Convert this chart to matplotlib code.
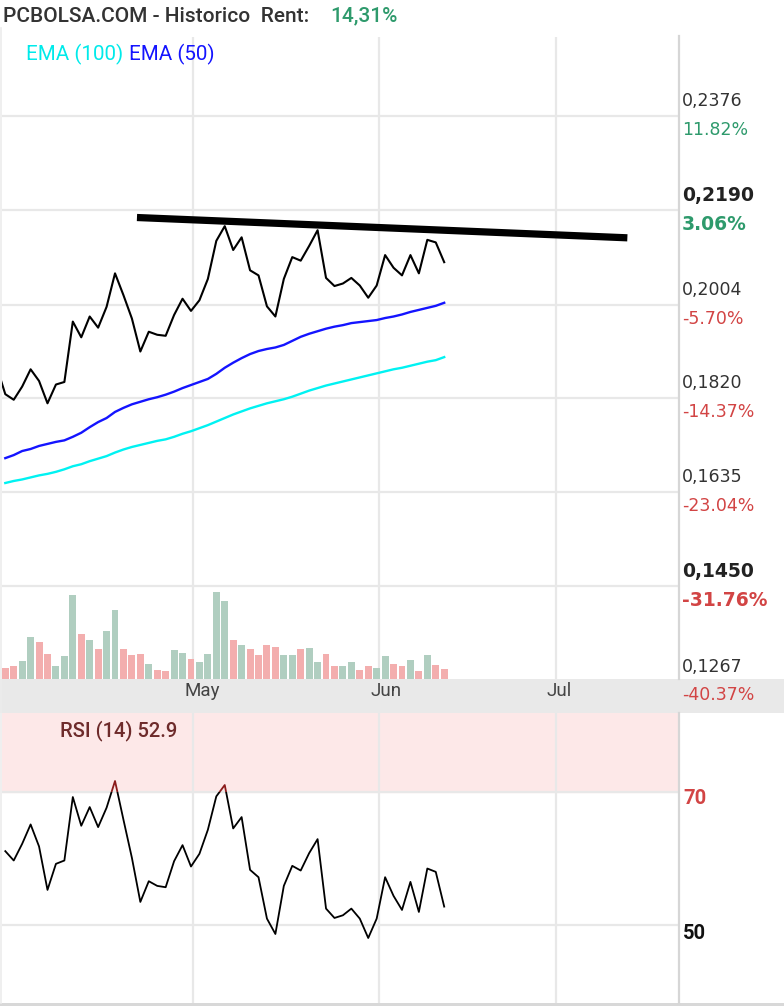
import matplotlib
matplotlib.use('Agg')
import matplotlib.pyplot as plt
import numpy as np
from matplotlib.patches import Rectangle
from matplotlib.lines import Line2D
from matplotlib.transforms import blended_transform_factory

# ---- data (trading-day index on x) ----
price_idx = np.arange(-1, 53)
close = [0.1881, 0.1828, 0.1817, 0.1843, 0.1877, 0.1854, 0.1810, 0.1847, 0.1852, 0.1971,
         0.1940, 0.1981, 0.1959, 0.2000, 0.2066, 0.2023, 0.1977, 0.1912, 0.1951, 0.1945,
         0.1943, 0.1984, 0.2016, 0.1992, 0.2013, 0.2055, 0.2130, 0.2159, 0.2112, 0.2137,
         0.2072, 0.2062, 0.2001, 0.1981, 0.2055, 0.2098, 0.2091, 0.2120, 0.2151, 0.2057,
         0.2041, 0.2046, 0.2057, 0.2042, 0.2018, 0.2042, 0.2102, 0.2077, 0.2062, 0.2102,
         0.2066, 0.2132, 0.2127, 0.2088]

idx = np.arange(53)
ema50 = [0.1702, 0.1708, 0.1716, 0.1720, 0.1726, 0.1730, 0.1734, 0.1737, 0.1744, 0.1752,
         0.1763, 0.1773, 0.1781, 0.1793, 0.1801, 0.1808, 0.1813, 0.1818, 0.1822, 0.1827,
         0.1833, 0.1840, 0.1846, 0.1852, 0.1858, 0.1868, 0.1880, 0.1890, 0.1899, 0.1907,
         0.1913, 0.1917, 0.1920, 0.1925, 0.1933, 0.1941, 0.1947, 0.1952, 0.1957, 0.1961,
         0.1964, 0.1968, 0.1970, 0.1972, 0.1974, 0.1978, 0.1981, 0.1985, 0.1990, 0.1994,
         0.1998, 0.2002, 0.2008]
ema100 = [0.1653, 0.1657, 0.1660, 0.1664, 0.1668, 0.1671, 0.1675, 0.1680, 0.1686, 0.1690,
          0.1696, 0.1701, 0.1706, 0.1713, 0.1719, 0.1724, 0.1728, 0.1732, 0.1736, 0.1739,
          0.1744, 0.1750, 0.1755, 0.1761, 0.1767, 0.1774, 0.1781, 0.1788, 0.1794, 0.1800,
          0.1805, 0.1810, 0.1814, 0.1818, 0.1823, 0.1829, 0.1835, 0.1840, 0.1845, 0.1849,
          0.1853, 0.1857, 0.1861, 0.1865, 0.1869, 0.1873, 0.1877, 0.1880, 0.1884, 0.1888,
          0.1892, 0.1895, 0.1901]
volume = [33, 39, 54, 126, 111, 75, 39, 69, 252, 135, 117, 90, 144, 207, 90, 72, 75, 45,
          27, 24, 87, 78, 60, 51, 75, 261, 234, 117, 102, 90, 72, 102, 96, 72, 72, 90, 93,
          51, 75, 39, 39, 51, 27, 39, 33, 69, 45, 39, 57, 24, 72, 42, 30]
rsi = [61.1, 59.7, 62.2, 65.1, 61.8, 55.3, 59.2, 59.7, 69.2, 64.9, 67.7, 64.7, 67.6, 71.6,
       65.8, 60.1, 53.5, 56.6, 55.9, 55.7, 59.6, 62.0, 58.8, 60.7, 64.3, 69.3, 71.0, 64.5,
       66.2, 58.3, 57.2, 51.0, 48.7, 55.9, 58.9, 58.2, 60.8, 62.9, 52.5, 51.1, 51.5, 52.5,
       51.0, 48.1, 51.0, 57.2, 54.4, 52.3, 56.5, 52.0, 58.5, 58.0, 52.8]

trend_x = [15.6, 73.7]
trend_y = [0.2176, 0.2136]

month_grid = [22.25, 44.25, 65.25]
month_label_pos = [23.3, 45.1, 65.6]
month_labels = ['May', 'Jun', 'Jul']

price_ticks = [0.2376, 0.2190, 0.2004, 0.1820, 0.1635, 0.1450, 0.1267]
price_labels = ['0,2376', '0,2190', '0,2004', '0,1820', '0,1635', '0,1450', '0,1267']
pct_labels = ['11.82%', '3.06%', '-5.70%', '-14.37%', '-23.04%', '-31.76%', '-40.37%']
bold_tick = [False, True, False, False, False, True, False]

W, H = 784, 1006
fx = lambda px: px / W
fy = lambda py: 1 - py / H

GRID = '#e8e8e8'
GREEN = '#2e9a6c'
RED = '#d24444'

fig = plt.figure(figsize=(W / 100, H / 100), dpi=100)
fig.patch.set_facecolor('white')

# gray band for the date axis
fig.add_artist(Rectangle((0, fy(713)), 1, (713 - 679) / H, transform=fig.transFigure,
                         facecolor='#e9e9e9', edgecolor='none', zorder=0))

x0, x1 = -0.39, 79.7

# ---- price panel ----
ax = fig.add_axes([fx(2), fy(679), fx(678) - fx(2), (679 - 37) / H])
ax.set_facecolor('none')
ax.set_xlim(x0, x1)
ax.set_ylim(0.12669, 0.25316)
ax.set_yticks(price_ticks[:-1])
ax.set_xticks(month_grid)
ax.grid(True, color=GRID, lw=1.6)
ax.set_axisbelow(True)
ax.tick_params(length=0, labelleft=False, labelbottom=False)
for s in ax.spines.values():
    s.set_visible(False)

ax.plot(idx, ema100, color='#00f2f2', lw=1.7)
ax.plot(idx, ema50, color='#1414ff', lw=1.7)
ax.plot(price_idx, close, color='black', lw=1.5)
ax.plot(trend_x, trend_y, color='black', lw=5.2, solid_capstyle='butt')

# volume bars on their own scale
axv = ax.twinx()
axv.set_ylim(0, 1926)
axv.axis('off')
up = np.diff(close) >= 0
axv.bar(idx, volume, width=0.82, color=np.where(up, '#b0cec0', '#f3aeae'))

for v, pl, pc, b in zip(price_ticks, price_labels, pct_labels, bold_tick):
    c = GREEN if not pc.startswith('-') else RED
    last = v == price_ticks[-1]
    kw = dict(xycoords=('axes fraction', 'data'), textcoords='offset pixels',
              va='center', ha='left', family='DejaVu Sans', annotation_clip=False,
              fontsize=13.5 if b else 12.5, fontweight='bold' if b else 'normal')
    ax.annotate(pl, xy=(1, v), xytext=(4, 12 if last else 15),
                color='#222222' if b else '#333333', **kw)
    ax.annotate(pc, xy=(1, v), xytext=(4, -16 if last else -14), color=c, **kw)

tr = blended_transform_factory(ax.transData, ax.transAxes)
for p, lab in zip(month_label_pos, month_labels):
    ax.text(p, -12 / 642, lab, transform=tr, ha='center', va='center',
            family='Roboto', fontsize=13.5, color='#444444')

# ---- RSI panel ----
axr = fig.add_axes([fx(2), fy(1003), fx(678) - fx(2), (1003 - 713) / H])
axr.set_xlim(x0, x1)
axr.set_ylim(38.37, 81.78)
axr.axhspan(70, 100, color='#fde8e8', zorder=0)
axr.set_yticks([70, 50])
axr.set_xticks(month_grid)
axr.grid(True, color=GRID, lw=1.6)
axr.set_axisbelow(True)
axr.tick_params(length=0, labelleft=False, labelbottom=False)
for s in axr.spines.values():
    s.set_visible(False)

lb, = axr.plot(idx, rsi, color='black', lw=1.3)
lb.set_clip_path(Rectangle((x0, 0), x1 - x0, 70, transform=axr.transData))
lr, = axr.plot(idx, rsi, color='#8b1a1a', lw=1.3)
lr.set_clip_path(Rectangle((x0, 70), x1 - x0, 40, transform=axr.transData))

axr.annotate('70', xy=(1, 70), xycoords=('axes fraction', 'data'), xytext=(5, -7),
             textcoords='offset pixels', va='center', ha='left', family='Roboto',
             fontsize=14.5, fontweight='bold', color=RED, annotation_clip=False)
axr.annotate('50', xy=(1, 50), xycoords=('axes fraction', 'data'), xytext=(5, -8),
             textcoords='offset pixels', va='center', ha='left', family='Roboto',
             fontsize=14.5, fontweight='bold', color='#111111', annotation_clip=False)
fig.text(fx(60), fy(731), 'RSI (14) 52.9', family='Roboto', fontsize=14.5, fontweight='medium',
         color='#6e2b2b', va='center', ha='left')

# ---- frame lines ----
for (ya, yb) in [(36, 679), (713, 1003)]:
    fig.add_artist(Line2D([fx(678.5), fx(678.5)], [fy(ya), fy(yb)], color='#d6d6d6', lw=1.6))
fig.add_artist(Line2D([fx(0.7), fx(0.7)], [fy(28), fy(1003)], color='#ececec', lw=1.2))
fig.add_artist(Rectangle((0, 0), 1, 3 / H, transform=fig.transFigure,
                         facecolor='#d8d8d8', edgecolor='none'))

# ---- header and legend ----
fig.text(fx(3), fy(16), 'PCBOLSA.COM - Historico  Rent:', family='Roboto', fontweight='medium',
         fontsize=15, color='#333333', va='center', ha='left')
fig.text(fx(330), fy(16), '14,31%', family='Roboto', fontweight='medium',
         fontsize=15, color=GREEN, va='center', ha='left')
fig.text(fx(26), fy(54), 'EMA (100)', family='Roboto', fontsize=14.8, color='#00eaea',
         va='center', ha='left')
fig.text(fx(129), fy(54), 'EMA (50)', family='Roboto', fontsize=14.8, color='#1414ff',
         va='center', ha='left')

fig.savefig('out.png', dpi=100)
